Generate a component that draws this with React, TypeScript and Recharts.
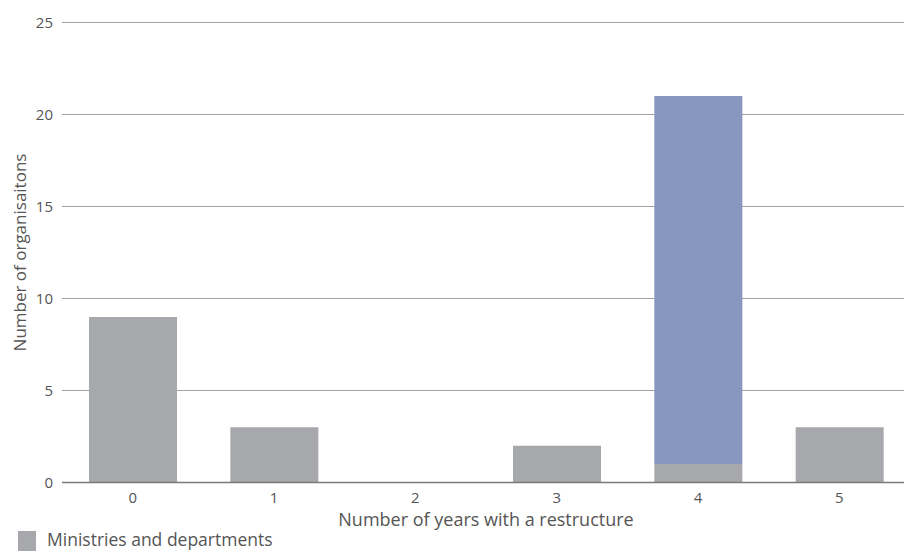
import React from 'react';
import { BarChart, Bar, XAxis, YAxis, CartesianGrid, Label } from 'recharts';

// Years with a restructure (category axis)
const categories: string[] = ['0', '1', '2', '3', '4', '5'];
// Organisation counts per group
const ministries: number[] = [9, 3, 0, 2, 1, 3];
const otherBodies: number[] = [0, 0, 0, 0, 20, 0];
const yTicks: number[] = [0, 5, 10, 15, 20, 25];

const seriesNames = ['Ministries and departments', 'Other organisations'];
const seriesColors = ['#a7a8ac', '#8797be'];

const data = categories.map((c, i) => ({
  year: c,
  ministries: ministries[i],
  other: otherBodies[i],
}));

const FONT = '"Open Sans", "DejaVu Sans", sans-serif';
const TEXT = '#555555';

export default function App() {
  return (
    <div
      style={{
        position: 'fixed',
        left: 0,
        top: 0,
        width: 904,
        height: 551,
        overflow: 'hidden',
        background: '#ffffff',
        fontFamily: FONT,
      }}
    >
      <BarChart
        width={910}
        height={551}
        data={data}
        margin={{ top: 22.5, right: 0, left: 0, bottom: 0 }}
        barSize={88}
      >
        <CartesianGrid vertical={false} stroke="#a3a3a3" strokeWidth={1} />
        <XAxis
          dataKey="year"
          height={68.5}
          tickSize={0}
          tickMargin={10}
          axisLine={{ stroke: '#7a7a7a', strokeWidth: 1.5 }}
          tick={{ fill: TEXT, fontSize: 15, fontFamily: FONT }}
        >
          <Label
            value="Number of years with a restructure"
            position="insideBottom"
            offset={25}
            style={{ fill: TEXT, fontSize: 18, fontFamily: FONT }}
          />
        </XAxis>
        <YAxis
          width={62}
          domain={[0, 25]}
          ticks={yTicks}
          tickSize={0}
          tickMargin={9}
          axisLine={false}
          tick={{ fill: TEXT, fontSize: 15, fontFamily: FONT }}
        >
          <Label
            value="Number of organisaitons"
            angle={-90}
            position="insideLeft"
            offset={20}
            style={{ fill: TEXT, fontSize: 17, fontFamily: FONT, textAnchor: 'middle' }}
          />
        </YAxis>
        <Bar dataKey="ministries" name={seriesNames[0]} stackId="a" fill={seriesColors[0]} isAnimationActive={false} />
        <Bar dataKey="other" name={seriesNames[1]} stackId="a" fill={seriesColors[1]} isAnimationActive={false} />
      </BarChart>
      <div style={{ position: 'absolute', left: 18, top: 531, width: 18, height: 20, background: seriesColors[0] }} />
      <div
        style={{
          position: 'absolute',
          left: 47,
          top: 528,
          fontSize: 17.5,
          lineHeight: '22px',
          color: TEXT,
          fontFamily: FONT,
          whiteSpace: 'nowrap',
        }}
      >
        {seriesNames[0]}
      </div>
    </div>
  );
}
